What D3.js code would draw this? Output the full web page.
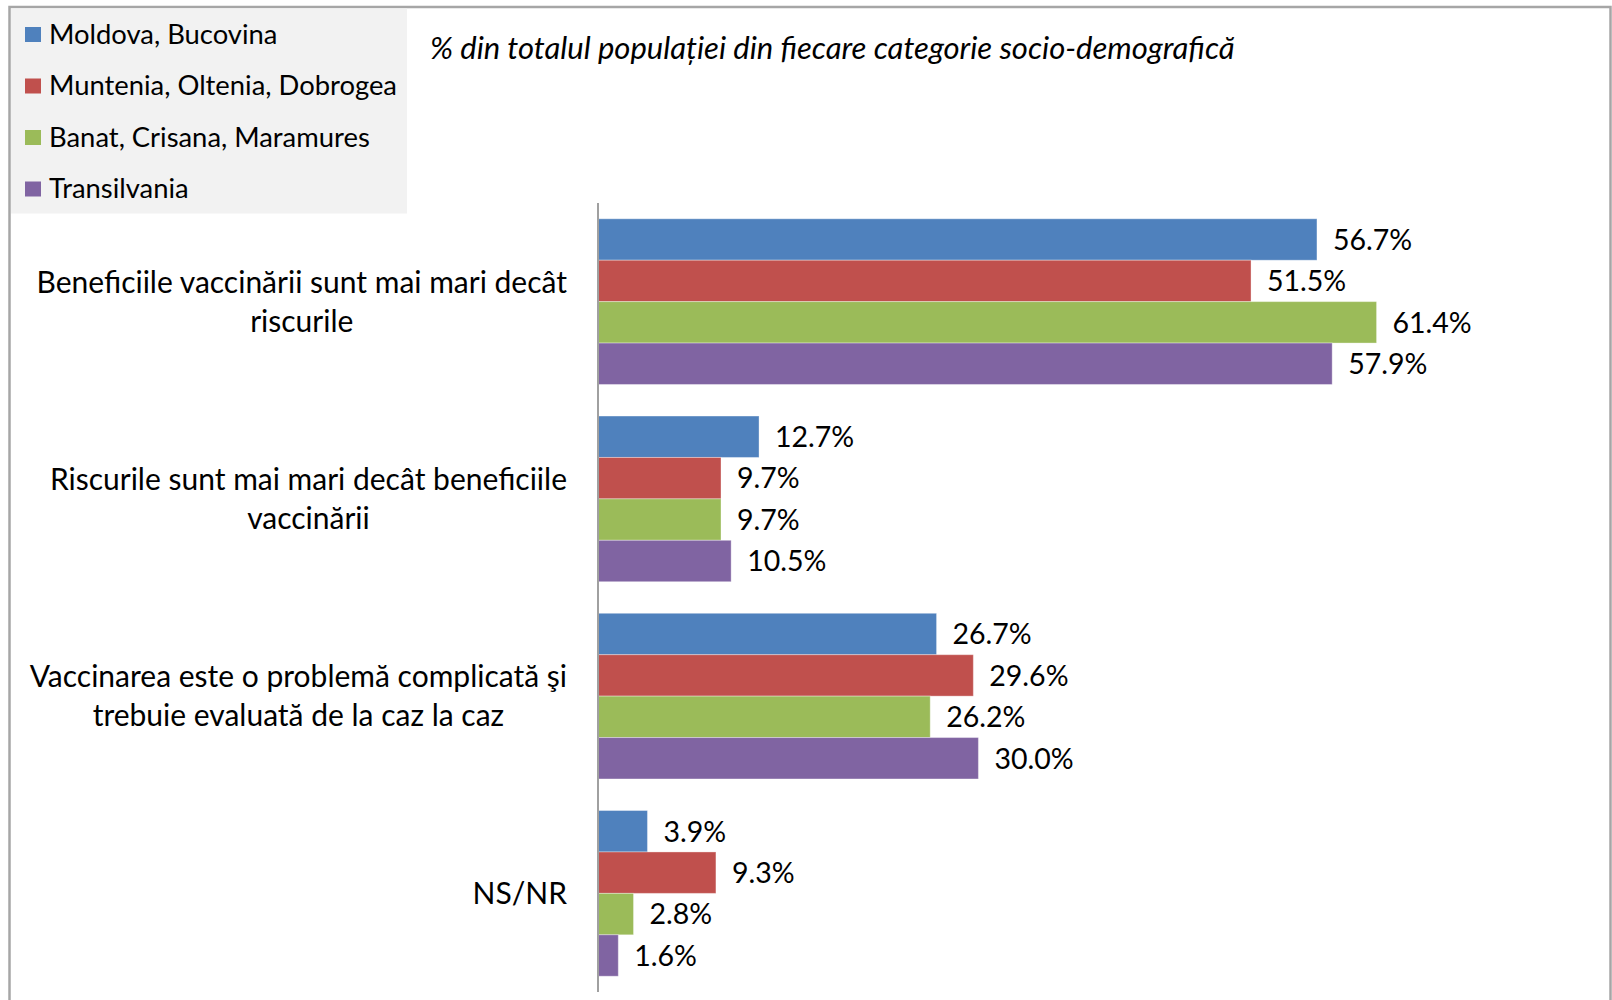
<!DOCTYPE html>
<html>
<head>
<meta charset="utf-8">
<script src="https://cdn.jsdelivr.net/npm/d3@7"></script>
<style>
  body { margin: 0; background: #fff; }
  svg text { font-family: Lato, "Open Sans", sans-serif; fill: #000; }
</style>
</head>
<body>
<svg width="1612" height="1000"></svg>
<script>
// Data
var categories = [
  ["Beneficiile vaccinării sunt mai mari decât", "riscurile"],
  ["Riscurile sunt mai mari decât beneficiile", "vaccinării"],
  ["Vaccinarea este o problemă complicată şi", "trebuie evaluată de la caz la caz"],
  ["NS/NR"]
];
var seriesNames = ["Moldova, Bucovina", "Muntenia, Oltenia, Dobrogea", "Banat, Crisana, Maramures", "Transilvania"];
var seriesColors = ["#4f81bd", "#c0504d", "#9bbb59", "#8064a2"];
var moldova = [56.7, 12.7, 26.7, 3.9];
var muntenia = [51.5, 9.7, 29.6, 9.3];
var banat = [61.4, 9.7, 26.2, 2.8];
var transilvania = [57.9, 10.5, 30.0, 1.6];
var seriesValues = [moldova, muntenia, banat, transilvania];
var subtitle = "% din totalul populației din fiecare categorie socio-demografică";

// The svg
var svg = d3.select("svg"),
    width = +svg.attr("width"),
    height = +svg.attr("height");

// outer frame
svg.append("rect")
    .attr("x", 9.5).attr("y", 7)
    .attr("width", 1601).attr("height", 1010)
    .attr("fill", "#fff")
    .attr("stroke", "#a6a6a6")
    .attr("stroke-width", 2.5);

// Scales
var y = d3.scaleBand()
    .domain(d3.range(categories.length))
    .range([203, 992])
    .paddingInner(0.16)
    .paddingOuter(0.08);
var ySub = d3.scaleBand()
    .domain(d3.range(seriesNames.length))
    .range([0, y.bandwidth()]);
var x = d3.scaleLinear()
    .domain([0, 70])
    .range([598, 598 + 70 * 12.68]);

// Bars
var groups = svg.append("g").attr("class", "bars")
  .selectAll("g")
  .data(seriesValues)
  .enter().append("g")
    .attr("fill", function(d, i) { return seriesColors[i]; });

groups.each(function(vals, si) {
  var g = d3.select(this);
  g.selectAll("rect")
    .data(vals)
    .enter().append("rect")
      .attr("x", x(0))
      .attr("y", function(d, ci) { return y(ci) + ySub(si); })
      .attr("width", function(d) { return x(d) - x(0); })
      .attr("height", ySub.bandwidth())
      .attr("stroke", "#fff")
      .attr("stroke-opacity", 0.35)
      .attr("stroke-width", 1);
  g.selectAll("text")
    .data(vals)
    .enter().append("text")
      .attr("x", function(d) { return x(d) + 16; })
      .attr("y", function(d, ci) { return y(ci) + ySub(si) + ySub.bandwidth() / 2; })
      .attr("dy", "0.36em")
      .style("font-size", "28.5px")
      .text(function(d) { return d.toFixed(1) + "%"; });
});

// Axis line
svg.append("line")
    .attr("x1", x(0)).attr("x2", x(0))
    .attr("y1", 203).attr("y2", 992)
    .attr("stroke", "#a0a0a0")
    .attr("stroke-width", 2);

// Category labels
var catLabels = svg.append("g").attr("class", "categories")
  .selectAll("text")
  .data(categories)
  .enter().append("text")
    .style("font-size", "30px")
    .attr("y", function(d, i) { return y(i) + y.bandwidth() / 2; });
catLabels.each(function(lines) {
  var t = d3.select(this);
  var lh = 39;
  lines.forEach(function(line, k) {
    t.append("tspan")
      .attr("x", 567)
      .attr("text-anchor", "end")
      .attr("y", +t.attr("y") + (k - (lines.length - 1) / 2) * lh)
      .attr("dy", "0.36em")
      .text(line);
  });
});
// second lines are centred under the first one
catLabels.each(function(lines) {
  var spans = d3.select(this).selectAll("tspan").nodes();
  if (spans.length > 1) {
    var w0 = spans[0].getComputedTextLength();
    var c = 567 - w0 / 2;
    d3.select(spans[1]).attr("x", c).attr("text-anchor", "middle");
  }
});

// Legend
var legend = svg.append("g").attr("class", "legend");
legend.append("rect")
    .attr("x", 11).attr("y", 8.5)
    .attr("width", 396).attr("height", 205)
    .attr("fill", "#f2f2f2");
var items = legend.selectAll("g")
  .data(seriesNames)
  .enter().append("g")
    .attr("transform", function(d, i) { return "translate(25," + (34 + i * 51.5) + ")"; });
items.append("rect")
    .attr("x", 0).attr("y", -7)
    .attr("width", 16).attr("height", 15)
    .attr("fill", function(d, i) { return seriesColors[i]; });
items.append("text")
    .attr("x", 24)
    .attr("dy", "0.36em")
    .style("font-size", "27.4px")
    .text(function(d) { return d; });

// Subtitle
svg.append("text")
    .attr("x", 430).attr("y", 48)
    .attr("dy", "0.36em")
    .style("font-size", "31px")
    .style("font-style", "italic")
    .text(subtitle);
</script>
</body>
</html>
